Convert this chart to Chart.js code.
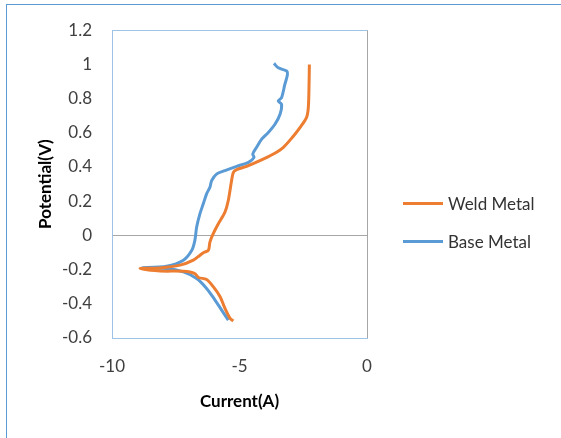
<!DOCTYPE html>
<html>
<head>
<meta charset="utf-8">
<script src="https://cdn.jsdelivr.net/npm/chart.js@4/dist/chart.umd.min.js"></script>
<style>
  body { margin: 0; background: #fff; overflow: hidden; }
  #wrap { position: relative; width: 561px; height: 438px; }
  #frame { position: absolute; left: 6px; top: 4px; width: 600px; height: 500px; border: 1px solid #5b9bd5; box-sizing: border-box; }
  #legend { position: absolute; left: 403px; top: 190px; font-family: Lato, sans-serif; font-size: 17px; color: #333; }
  .item { display: flex; align-items: center; height: 26px; margin-bottom: 12px; }
  .item span.line { display: inline-block; width: 40px; height: 3px; margin-right: 5px; }
</style>
</head>
<body>
<div id="wrap">
  <div id="frame"></div>
  <canvas id="chart" width="561" height="438"></canvas>
  <div id="legend"></div>
</div>
<script>
const seriesNames = ["Weld Metal", "Base Metal"];
const seriesColors = ["#ed7d31", "#5b9bd5"];

const weldCurrent = [-2.26, -2.27, -2.30, -2.37, -2.63, -2.89, -3.28, -3.67, -4.20, -4.72, -5.11, -5.24, -5.31, -5.44, -5.57, -5.83, -6.03, -6.16, -6.22, -6.40, -6.55, -6.81, -7.33, -8.12, -8.90, -8.12, -7.20, -6.75, -6.61, -6.29, -6.03, -5.76, -5.57, -5.37, -5.24];
const weldPotential = [1.00, 0.90, 0.75, 0.69, 0.63, 0.58, 0.515, 0.476, 0.437, 0.404, 0.385, 0.369, 0.321, 0.204, 0.136, 0.068, 0.01, -0.039, -0.087, -0.10, -0.116, -0.145, -0.174, -0.19, -0.194, -0.208, -0.21, -0.223, -0.246, -0.258, -0.30, -0.359, -0.427, -0.485, -0.50];

const baseCurrent = [-3.65, -3.48, -3.15, -3.12, -3.22, -3.35, -3.48, -3.35, -3.41, -3.61, -3.87, -4.13, -4.33, -4.48, -4.43, -4.65, -5.11, -5.57, -5.89, -6.09, -6.16, -6.29, -6.42, -6.55, -6.68, -6.75, -6.87, -7.20, -7.86, -8.84, -7.86, -7.20, -6.68, -6.29, -5.96, -5.70, -5.44];
const basePotential = [1.006, 0.98, 0.961, 0.94, 0.884, 0.806, 0.786, 0.767, 0.709, 0.65, 0.602, 0.563, 0.515, 0.476, 0.456, 0.427, 0.404, 0.379, 0.36, 0.321, 0.282, 0.243, 0.185, 0.127, 0.049, -0.029, -0.087, -0.145, -0.18, -0.19, -0.194, -0.213, -0.252, -0.31, -0.378, -0.437, -0.495];

const xTicks = [-10, -5, 0];
const yTicks = [-0.6, -0.4, -0.2, 0, 0.2, 0.4, 0.6, 0.8, 1, 1.2];

const edgeBlue = "#9dc3e6";
const zeroGray = "#a6a6a6";

function puntos(xs, ys) {
  return xs.map((x, i) => ({ x: x, y: ys[i] }));
}

const datasets = [
  { label: seriesNames[0], data: puntos(weldCurrent, weldPotential), borderColor: seriesColors[0] },
  { label: seriesNames[1], data: puntos(baseCurrent, basePotential), borderColor: seriesColors[1] }
].map(d => Object.assign(d, {
  showLine: true,
  borderWidth: 3,
  pointRadius: 0,
  tension: 0.3,
  backgroundColor: d.borderColor
}));

const fuente = { family: "Lato, sans-serif", size: 17 };

const chart = new Chart(document.getElementById("chart"), {
  type: "scatter",
  data: { datasets: datasets },
  options: {
    responsive: false,
    animation: false,
    layout: { padding: { top: 26, right: 194, bottom: 0, left: 0 } },
    plugins: { legend: { display: false }, tooltip: { enabled: false } },
    scales: {
      x: {
        min: -10,
        max: 0,
        afterBuildTicks: s => { s.ticks = xTicks.map(v => ({ value: v })); },
        afterFit: s => { s.height = 100; },
        ticks: { color: "#404040", font: fuente, padding: 18, maxRotation: 0 },
        grid: {
          drawTicks: false,
          color: c => c.tick && c.tick.value === 0 ? zeroGray : (c.tick && c.tick.value === -10 ? edgeBlue : "rgba(0,0,0,0)")
        },
        border: { color: edgeBlue },
        title: { display: true, text: "Current(A)", color: "#000", font: Object.assign({}, fuente, { weight: "bold" }), padding: { top: 26, bottom: 26 } }
      },
      y: {
        min: -0.6,
        max: 1.2,
        afterBuildTicks: s => { s.ticks = yTicks.map(v => ({ value: v })); },
        afterFit: s => { s.width = 112; },
        ticks: { color: "#404040", font: fuente, padding: 20, callback: v => String(Math.round(v * 10) / 10) },
        grid: {
          drawTicks: false,
          color: c => {
            if (!c.tick) return "rgba(0,0,0,0)";
            if (Math.abs(c.tick.value) < 1e-9) return zeroGray;
            if (Math.abs(c.tick.value - 1.2) < 1e-9 || Math.abs(c.tick.value + 0.6) < 1e-9) return edgeBlue;
            return "rgba(0,0,0,0)";
          }
        },
        border: { color: edgeBlue },
        title: { display: true, text: "Potential(V)", color: "#000", font: Object.assign({}, fuente, { weight: "bold" }), padding: { top: 35, bottom: 35 } }
      }
    }
  }
});

document.getElementById("legend").innerHTML = chart.data.datasets
  .map(d => `<div class="item"><span class="line" style="background:${d.borderColor}"></span>${d.label}</div>`)
  .join("");
</script>
</body>
</html>
